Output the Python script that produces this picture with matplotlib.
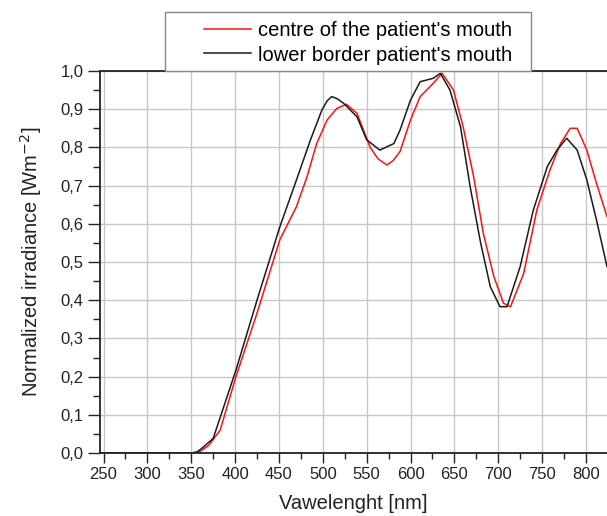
import matplotlib.pyplot as plt
from matplotlib.patches import Rectangle
from matplotlib.ticker import MultipleLocator, FuncFormatter

plt.rcParams['font.family'] = ['Liberation Sans', 'DejaVu Sans']

# centre of the patient's mouth (red)
wl_centre = [246, 300, 350, 360, 370, 383, 401, 425, 451, 470, 482, 493, 505, 516, 527, 539,
             554, 563, 573, 580, 588, 600, 611, 626, 636, 649, 660, 672, 683, 695, 706, 714,
             729, 744, 759, 771, 782, 790, 801, 812, 824]
val_centre = [0.0, 0.0, 0.0, 0.004, 0.02, 0.06, 0.20, 0.366, 0.558, 0.645, 0.723, 0.81, 0.872,
              0.902, 0.913, 0.889, 0.80, 0.77, 0.754, 0.765, 0.789, 0.872, 0.933, 0.968, 0.994,
              0.95, 0.854, 0.723, 0.575, 0.462, 0.392, 0.383, 0.47, 0.636, 0.741, 0.81, 0.85,
              0.85, 0.793, 0.706, 0.619]

# lower border of the patient's mouth (black)
wl_lower = [246, 300, 350, 356, 362, 375, 401, 425, 451, 470, 486, 499, 505, 510, 516, 524, 539,
            550, 565, 581, 588, 600, 611, 626, 634, 645, 657, 668, 680, 691, 702, 710, 725, 740,
            756, 767, 778, 790, 801, 812, 824]
val_lower = [0.0, 0.0, 0.0, 0.002, 0.012, 0.038, 0.217, 0.40, 0.592, 0.715, 0.82, 0.898, 0.922,
             0.933, 0.928, 0.915, 0.88, 0.82, 0.793, 0.81, 0.845, 0.924, 0.972, 0.981, 0.994,
             0.95, 0.854, 0.697, 0.549, 0.435, 0.383, 0.383, 0.488, 0.636, 0.75, 0.793, 0.824,
             0.793, 0.715, 0.61, 0.488]

W, H = 607, 516
fig = plt.figure(figsize=(W / 100, H / 100), dpi=100)
ax = fig.add_axes([100 / W, 1 - 453 / H, 1 - 100 / W, (453 - 71) / H])

ax.plot(wl_centre, val_centre, color='#ff1010', lw=1.1, label="centre of the patient's mouth")
ax.plot(wl_lower, val_lower, color='#1a1a1a', lw=1.1, label="lower border patient's mouth")

ax.set_xlim(246, 824)
ax.set_ylim(0, 1.0)
ax.xaxis.set_major_locator(MultipleLocator(50))
ax.xaxis.set_minor_locator(MultipleLocator(25))
ax.yaxis.set_major_locator(MultipleLocator(0.1))
ax.yaxis.set_minor_locator(MultipleLocator(0.05))
ax.yaxis.set_major_formatter(FuncFormatter(lambda v, p: f"{v:.1f}".replace('.', ',')))
ax.tick_params(which='both', direction='out', width=1, labelsize=12, colors='#222222')
ax.tick_params(axis='y', which='major', length=9, pad=3)
ax.tick_params(axis='y', which='minor', length=5)
ax.tick_params(axis='x', which='major', length=7, pad=3)
ax.tick_params(axis='x', which='minor', length=4)
ax.grid(True, which='major', color='#c8c8c8', lw=1)
ax.set_axisbelow(True)
for s in ['left', 'bottom', 'top']:
    ax.spines[s].set_color('#222222')
    ax.spines[s].set_linewidth(1.3)
ax.spines['right'].set_visible(False)

ax.set_xlabel("Vawelenght [nm]", fontsize=14.5, color='#222222', labelpad=9)
ax.set_ylabel("Normalized irradiance [Wm$^{-2}$]", fontsize=14.5, color='#222222', labelpad=12)

# legend frame drawn separately so the entries can sit right of centre like the original
fig.patches.append(Rectangle((165 / W, 1 - 71 / H), 366 / W, 59 / H, transform=fig.transFigure,
                             facecolor='white', edgecolor='#888888', lw=1, zorder=0))
leg = fig.legend(loc='center', bbox_to_anchor=(358 / W, 1 - 43 / H), fontsize=14.5, frameon=False,
                 handlelength=2.3, handletextpad=0.35, labelspacing=0.25, borderpad=0)

fig.savefig('out.png', dpi=100)
